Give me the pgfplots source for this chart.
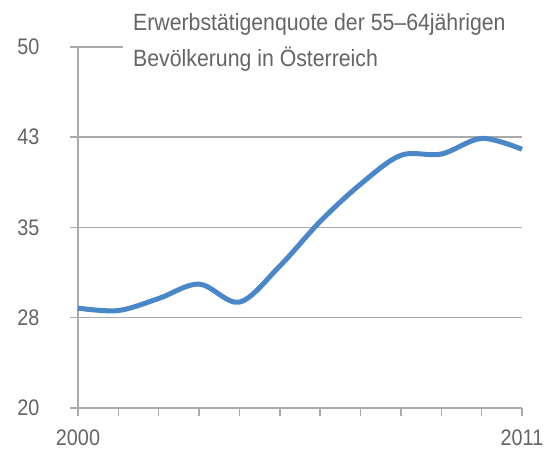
\documentclass[border=0pt]{standalone}
\usepackage{pgfplots}
\pgfplotsset{compat=1.18}
\usepackage{fontspec}
\setmainfont[FakeStretch=0.88]{Liberation Sans}
\newfontfamily\titlefont[FakeStretch=0.905]{Liberation Sans}
\definecolor{lineblue}{RGB}{74,135,200}
\definecolor{gridgray}{RGB}{170,170,170}
\definecolor{textgray}{RGB}{100,100,100}
\begin{document}
\begin{tikzpicture}
\useasboundingbox (0,0) rectangle (544bp,450bp);
\begin{axis}[
  at={(78bp,42bp)}, anchor=south west,
  scale only axis, width=444bp, height=361bp,
  xmin=2000, xmax=2011, ymin=20, ymax=50,
  axis x line=bottom, axis y line=left,
  axis line style={gridgray, line width=1.5bp, -},
  xtick={2000,2001,...,2011},
  xticklabels={2000,,,,,,,,,,,2011},
  ytick={20,27.5,35,42.5,50},
  yticklabels={20,28,35,43,50},
  tick align=outside, major tick length=8bp,
  tick style={gridgray, line width=1.5bp},
  ymajorgrids, grid style={gridgray, line width=1.5bp},
  /pgf/number format/assume math mode=true,
  tick label style={font=\fontsize{22.5bp}{24bp}\selectfont, text=textgray},
  yticklabel style={xshift=-27bp},
  xticklabel style={yshift=-10bp},
  clip=false,
]
\addplot[lineblue, line width=5bp, smooth, tension=0.55] coordinates {
(2000,28.3) (2001,28.1) (2002,29.1) (2003,30.3) (2004,28.8) (2005,31.8)
(2006,35.5) (2007,38.6) (2008,41.0) (2009,41.1) (2010,42.4) (2011,41.5)
};
\end{axis}
\fill[white] (123bp,398bp) rectangle (544bp,408bp);
\node[inner sep=0pt, anchor=base west, text=textgray,
  font=\titlefont\fontsize{23.5bp}{26bp}\selectfont] at (133bp,419bp)
  {Erwerbstätigenquote der 55–64jährigen};
\node[inner sep=0pt, anchor=base west, text=textgray,
  font=\titlefont\fontsize{23.5bp}{26bp}\selectfont] at (133bp,383bp)
  {Bevölkerung in Österreich};
\end{tikzpicture}
\end{document}
